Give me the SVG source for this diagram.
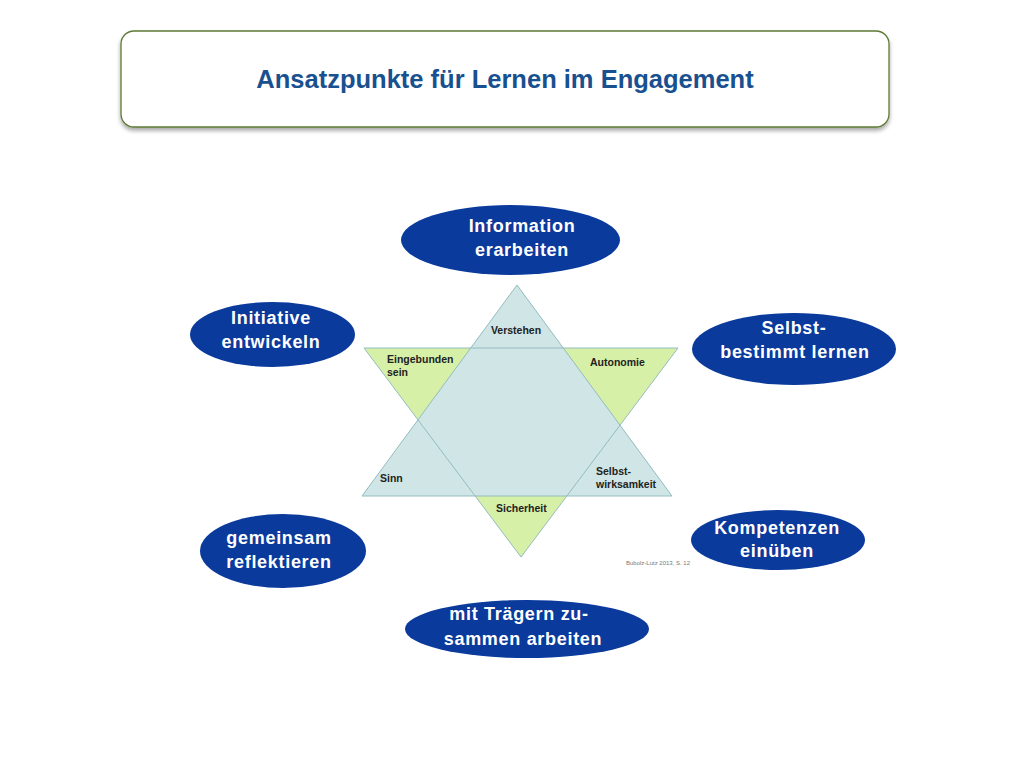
<svg xmlns="http://www.w3.org/2000/svg" width="1024" height="768" viewBox="0 0 1024 768">
<defs>
<filter id="sh" x="-5%" y="-10%" width="110%" height="130%">
<feGaussianBlur in="SourceAlpha" stdDeviation="2"/>
<feOffset dx="0" dy="3" result="b"/>
<feComponentTransfer><feFuncA type="linear" slope="0.35"/></feComponentTransfer>
<feMerge><feMergeNode/><feMergeNode in="SourceGraphic"/></feMerge>
</filter>
</defs>
<style>
.ell{fill:#0a3a9c;}
.lbl{font-family:"Liberation Sans",Arial,sans-serif;font-weight:bold;font-size:18px;letter-spacing:0.7px;fill:#ffffff;text-anchor:middle;}
.st{font-family:"Liberation Sans",Arial,sans-serif;font-weight:bold;font-size:10.5px;fill:#222;}
.edge{fill:none;stroke:#93bcbf;stroke-width:1;}
</style>
<rect width="1024" height="768" fill="#ffffff"/>
<g id="title">
<rect x="121" y="31" width="768" height="96" rx="13" fill="#ffffff" stroke="#5c7a35" stroke-width="1.3" filter="url(#sh)"/>
<text x="505" y="88" font-family="Liberation Sans,Arial,sans-serif" font-weight="bold" font-size="25.5" fill="#19508f" text-anchor="middle">Ansatzpunkte für Lernen im Engagement</text>
</g>
<g id="star">
<polygon points="364,348 678,348 521,557" fill="#d7f0a8"/>
<polygon points="517,285 672,496 362,496" fill="#cfe5e6"/>
<polygon points="364,348 678,348 521,557" class="edge"/>
<polygon points="517,285 672,496 362,496" class="edge"/>
<text class="st" x="516" y="334" text-anchor="middle">Verstehen</text>
<text class="st" x="387" y="363">Eingebunden</text>
<text class="st" x="387" y="376">sein</text>
<text class="st" x="590" y="366">Autonomie</text>
<text class="st" x="380" y="482">Sinn</text>
<text class="st" x="596" y="475">Selbst-</text>
<text class="st" x="596" y="488">wirksamkeit</text>
<text class="st" x="496" y="512">Sicherheit</text>
<text x="658" y="565" font-family="Liberation Sans,Arial,sans-serif" font-size="6" fill="#777" text-anchor="middle">Bubolz-Lutz 2013, S. 12</text>
</g>
<g id="n-information">
<ellipse class="ell" cx="510.5" cy="240" rx="109.5" ry="35"/>
<text class="lbl" x="522" y="232">Information</text>
<text class="lbl" x="522" y="256">erarbeiten</text>
</g>
<g id="n-initiative">
<ellipse class="ell" cx="272.5" cy="334.5" rx="82.5" ry="32.5"/>
<text class="lbl" x="271" y="324">Initiative</text>
<text class="lbl" x="271" y="348">entwickeln</text>
</g>
<g id="n-selbst">
<ellipse class="ell" cx="794" cy="349" rx="102" ry="36"/>
<text class="lbl" x="794" y="334">Selbst-</text>
<text class="lbl" x="795" y="358">bestimmt lernen</text>
</g>
<g id="n-gemeinsam">
<ellipse class="ell" cx="283" cy="551" rx="83" ry="37"/>
<text class="lbl" x="279" y="544">gemeinsam</text>
<text class="lbl" x="279" y="568">reflektieren</text>
</g>
<g id="n-kompetenzen">
<ellipse class="ell" cx="778" cy="540" rx="87" ry="30"/>
<text class="lbl" x="777" y="534">Kompetenzen</text>
<text class="lbl" x="777" y="557">einüben</text>
</g>
<g id="n-traeger">
<ellipse class="ell" cx="527" cy="629" rx="122" ry="29"/>
<text class="lbl" x="519" y="620">mit Trägern zu-</text>
<text class="lbl" x="523" y="645">sammen arbeiten</text>
</g>
<g id="connectors"/>
</svg>
